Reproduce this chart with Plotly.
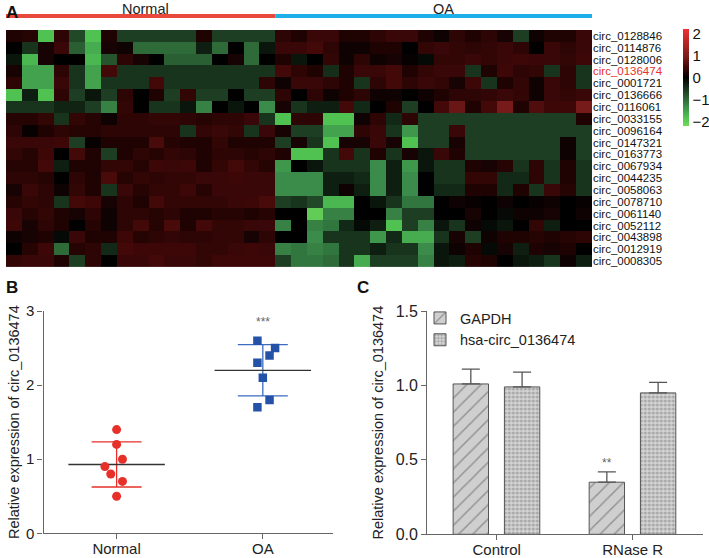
import numpy as np
import plotly.graph_objects as go

W, H = 709, 558
FONT = "Liberation Sans, Arial, sans-serif"

# ---------------- Panel A data ----------------
group_names = ["Normal", "OA"]
n_normal = 17
n_oa = 20
genes = ["circ_0128846", "circ_0114876", "circ_0128006", "circ_0136474", "circ_0001721",
         "circ_0136666", "circ_0116061", "circ_0033155", "circ_0096164", "circ_0147321",
         "circ_0163773", "circ_0067934", "circ_0044235", "circ_0058063", "circ_0078710",
         "circ_0061140", "circ_0052112", "circ_0043898", "circ_0012919", "circ_0008305"]
highlight_gene = "circ_0136474"

heat_z = [
    [0.2, 0.25, -1.8, 0.3, -0.7, -1.8, 0.2, -0.6, -0.6, -0.6, -0.6, -0.6, 0.2,
     -0.6, -0.6, -0.6, -0.6, 0.3, 0.2, 0.4, 0.4, 0.2, 0.2, 0.3, 0.4,
     0.4, 0.2, 0.1, 0.3, 0.2, 0.3, 0.15, -0.6, 0.1, 0.2, 0.2, 0.4],
    [0.0, -0.5, 0.15, 0.4, -0.9, -1.6, 0.15, 0.1, -1.0, -1.0, -1.0, -1.0, -0.3,
     -1.0, 0.0, -1.0, -0.2, 0.4, 0.4, 0.5, 0.3, 0.1, 0.1, 0.2, 0.2,
     0.0, 0.35, 0.4, 0.35, 0.3, 0.35, 0.4, 0.3, 0.0, 0.4, 0.3, 0.4],
    [-0.2, -1.7, 0.15, 0.0, 0.0, -1.7, -0.8, 0.3, 0.15, 0.0, -0.9, -0.9, -0.9,
     0.0, 0.15, -1.0, 0.0, 0.2, -0.2, 0.0, 0.35, 0.1, 0.3, 0.1, 0.15,
     0.05, -0.1, 0.35, 0.35, 0.4, 0.35, 0.4, 0.45, 0.4, 0.4, 0.35, 0.45],
    [0.15, -1.5, -1.5, 0.3, -0.5, -1.5, 0.5, -0.5, -0.5, -0.5, -0.5, -0.5, -0.5,
     -0.5, -0.5, -0.5, -0.5, 0.5, 0.3, 0.2, -0.45, 0.2, 0.4, 0.4, 0.5,
     0.2, 0.35, 0.4, 0.4, -0.5, 0.2, 0.45, 0.3, 0.35, -0.5, 0.3, -0.5],
    [0.3, -1.5, -1.5, 0.4, -0.5, -1.5, -0.5, -0.5, -0.5, 0.5, -0.5, -0.5, -0.5,
     -0.5, -0.5, -0.5, 0.3, 0.1, 0.4, 0.4, 0.3, 0.2, -0.5, 0.3, 0.5,
     0.3, 0.4, 0.35, 0.15, 0.45, -0.5, 0.2, 0.35, 0.1, 0.4, 0.3, -0.5],
    [-1.8, -0.3, -1.8, 0.3, -0.6, -0.2, -0.6, 0.3, 0.0, 0.2, -0.6, 0.35, -0.6,
     -0.6, 0.0, -0.6, -0.6, 0.3, 0.0, 0.3, 0.1, 0.2, 0.3, 0.1, 0.1,
     0.0, 0.1, 0.2, 0.3, 0.3, 0.35, 0.4, 0.35, 0.1, 0.4, 0.35, 0.4],
    [-0.5, -0.5, -0.5, -0.35, -0.35, -0.6, -1.2, 0.35, 0.0, -0.5, -0.5, -0.2, -1.2,
     0.0, -0.2, 0.0, -1.3, 0.15, -0.5, -0.3, -0.3, 0.5, -0.4, 0.0, 0.2,
     -0.6, 0.0, 0.5, 0.8, 0.2, 0.5, 0.9, 0.2, 0.6, 0.45, 0.45, 0.9],
    [0.25, 0.25, 0.35, -0.5, 0.35, 0.25, 0.1, 0.3, 0.3, 0.35, 0.35, 0.3, 0.25,
     0.3, 0.3, 0.4, -0.5, -1.8, 0.3, 0.3, -1.8, -1.8, 0.1, 0.3, -0.4,
     0.3, -0.6, -0.6, -0.6, -0.6, -0.6, -0.6, -0.6, -0.6, -0.6, -0.6, 0.2],
    [0.3, 0.05, 0.2, 0.3, 0.25, 0.25, 0.3, 0.3, 0.3, 0.3, 0.3, -0.5, 0.35,
     0.4, 0.35, -0.5, 0.4, 0.15, -0.6, -0.6, -1.5, -1.5, 0.3, 0.4, -0.5,
     -1.4, -0.6, -0.6, 0.4, -0.6, -0.6, -0.6, -0.6, -0.6, -0.6, -0.6, -0.6],
    [0.4, 0.4, 0.4, 0.45, -0.6, 0.05, 0.2, 0.2, 0.2, 0.55, 0.25, 0.2, 0.2,
     0.35, 0.2, 0.2, 0.2, -0.6, 0.15, -0.5, -1.8, 0.15, 0.15, 0.4, 0.15,
     -1.8, -0.6, -0.6, 0.15, -0.6, -0.6, -0.6, -0.6, -0.6, -0.6, 0.1, -0.6],
    [0.35, 0.25, 0.45, 0.0, 0.5, 0.2, -0.6, 0.2, 0.3, 0.25, 0.35, 0.3, 0.2,
     0.3, 0.3, 0.25, 0.3, 0.2, -1.8, -1.8, -0.5, 0.5, -0.5, 0.2, -0.5,
     0.15, -0.2, 0.4, 0.2, -0.6, -0.6, -0.6, -0.6, -0.6, -0.6, 0.1, -0.6],
    [0.25, 0.25, 0.5, -0.3, 0.2, 0.2, 0.35, 0.35, 0.25, 0.45, 0.4, 0.45, 0.2,
     0.35, 0.5, 0.35, 0.25, -1.4, 0.0, -0.2, -0.5, -0.5, -0.5, -1.3, -0.3,
     -1.4, -0.2, -0.5, -0.5, 0.2, 0.15, 0.25, -0.5, 0.3, -0.5, 0.2, -0.5],
    [0.3, 0.3, 0.25, 0.0, 0.3, 0.2, 0.55, 0.25, 0.35, 0.3, 0.35, 0.35, 0.4,
     0.4, 0.45, 0.4, 0.4, -1.3, -1.3, -1.3, -0.3, -0.3, -0.4, -1.3, -0.3,
     -1.3, 0.0, -0.5, -0.5, 0.35, 0.35, -0.4, -0.4, 0.3, -0.5, 0.2, -0.5],
    [0.15, 0.4, 0.3, 0.1, 0.35, 0.2, -0.5, 0.4, 0.25, 0.35, 0.35, 0.45, 0.25,
     0.4, 0.4, 0.4, 0.4, -1.3, -1.3, -1.3, -0.3, 0.1, -0.3, -1.3, -0.3,
     -1.3, 0.0, -0.4, -0.4, 0.2, 0.2, -0.4, 0.2, -0.5, 0.4, 0.25, -0.5],
    [0.25, 0.35, 0.3, -0.5, 0.5, 0.45, 0.15, 0.3, 0.2, 0.5, 0.35, 0.35, 0.35,
     0.35, 0.4, 0.45, 0.55, -0.6, -0.5, -0.7, -1.7, -1.7, 0.0, -0.2, -0.5,
     -1.1, -1.1, 0.0, 0.1, 0.05, 0.0, 0.1, 0.0, 0.05, 0.1, 0.0, 0.05],
    [0.4, 0.25, 0.35, 0.2, 0.15, 0.3, 0.1, 0.3, 0.3, 0.25, 0.3, 0.2, 0.2,
     0.25, 0.25, 0.2, 0.25, 0.0, 0.0, -2.0, -1.2, -1.2, 0.0, 0.0, -1.2,
     -0.6, -0.6, 0.0, 0.0, 0.15, 0.0, -0.1, 0.1, 0.1, 0.15, 0.0, 0.1],
    [0.45, 0.15, 0.3, 0.2, 0.0, 0.25, 0.1, 0.3, 0.5, 0.25, 0.55, 0.2, 0.5,
     0.35, 0.35, 0.4, 0.4, -1.2, 0.0, -1.2, -1.1, -0.4, -0.1, -0.3, -1.8,
     -0.6, -1.2, -0.2, -0.5, 0.1, -0.1, -0.2, 0.0, 0.35, -0.3, 0.0, 0.0],
    [0.1, 0.15, 0.2, -0.1, 0.4, 0.2, 0.2, 0.45, 0.25, 0.3, 0.35, 0.3, 0.3,
     0.35, 0.35, 0.15, 0.3, 0.0, 0.0, -1.3, -0.5, -0.5, -0.5, -1.4, -0.4,
     -1.6, -1.6, -0.5, 0.15, -0.6, 0.1, 0.2, 0.2, 0.25, 0.2, 0.25, 0.3],
    [0.0, 0.25, 0.45, -1.0, 0.25, 0.3, -0.4, 0.5, 0.45, 0.45, 0.45, 0.45, 0.35,
     0.35, 0.4, 0.45, 0.4, -1.2, -1.1, -1.2, -1.1, -0.5, -0.5, -0.3, -0.5,
     -0.5, -1.3, -0.2, 0.1, 0.2, -0.1, 0.15, -0.3, 0.2, 0.15, 0.2, 0.0],
    [0.35, 0.4, 0.4, 0.2, -0.6, 0.3, 0.0, 0.4, 0.4, 0.5, 0.4, 0.4, 0.35,
     0.45, 0.45, 0.45, 0.45, -0.6, -1.1, -1.1, -1.0, -0.5, -1.6, -0.6, -0.6,
     -0.6, -1.2, -0.2, -0.3, 0.25, 0.2, 0.0, -0.2, -0.3, -0.5, 0.1, -0.3],
]
colorbar_ticks = [-2, -1, 0, 1, 2]

# ---------------- Panel B data ----------------
b_groups = ["Normal", "OA"]
normal_vals = [1.4, 1.2, 1.0, 0.9, 0.8, 0.7, 0.5]
normal_jitter = [0.0, 0.0, 0.04, -0.08, -0.04, 0.04, 0.0]
oa_vals = [2.6, 2.5, 2.4, 2.3, 2.1, 1.8, 1.7]
oa_jitter = [-0.037, 0.084, 0.046, -0.037, 0.0, 0.046, -0.037]
b_yticks = [0, 1, 2, 3]

# ---------------- Panel C data ----------------
c_groups = ["Control", "RNase R"]
c_series = ["GAPDH", "hsa-circ_0136474"]
gapdh_vals = [1.01, 0.35]
gapdh_err = [0.10, 0.07]
hsa_vals = [0.99, 0.95]
hsa_err = [0.10, 0.07]
c_yticks = [0.0, 0.5, 1.0, 1.5]

# ---------------- helpers ----------------
def px(x):
    return x / W

def py(y):
    return 1 - y / H

fig = go.Figure()

# ---------------- Panel A ----------------
zmin, zmax = -2.2, 2.2
def stop(v):
    return (v - zmin) / (zmax - zmin)

colorscale = [
    [stop(-2.2), "#74d85c"],
    [stop(-1.8), "#4fc252"],
    [stop(-1.3), "#3b8c4a"],
    [stop(-0.6), "#1d3e22"],
    [stop(0.0), "#000000"],
    [stop(0.3), "#2e0505"],
    [stop(0.5), "#430808"],
    [stop(0.9), "#761a1a"],
    [stop(2.2), "#f03030"],
]

n_cols = n_normal + n_oa
fig.add_trace(go.Heatmap(
    z=heat_z, x=list(range(n_cols)), y=list(range(len(genes))),
    zmin=zmin, zmax=zmax, colorscale=colorscale,
    xaxis="x", yaxis="y", hoverinfo="skip",
    colorbar=dict(x=px(683), xanchor="left", y=py(29), yanchor="top",
                  len=97, lenmode="pixels", thickness=6, thicknessmode="pixels",
                  xpad=0, ypad=0, outlinewidth=0, ticks="",
                  tickvals=colorbar_ticks,
                  tickfont=dict(size=15, color="#111", family=FONT)),
))

tick_text = [f"<span style='color:#e8302a'>{g}</span>" if g == highlight_gene else g for g in genes]

# ---------------- Panel B ----------------
normal_mean, normal_sd = float(np.mean(normal_vals)), float(np.std(normal_vals, ddof=1))
oa_mean, oa_sd = float(np.mean(oa_vals)), float(np.std(oa_vals, ddof=1))

for gi, (mean, sd, col) in enumerate([(normal_mean, normal_sd, "#e8302a"), (oa_mean, oa_sd, "#3c6cc0")]):
    fig.add_trace(go.Scatter(
        x=[gi], y=[mean], mode="markers", marker=dict(size=1, color="rgba(0,0,0,0)"),
        error_y=dict(type="data", array=[sd], symmetric=True, color=col, thickness=1.3, width=25),
        xaxis="x2", yaxis="y2", showlegend=False, hoverinfo="skip"))
    fig.add_trace(go.Scatter(
        x=[gi - 0.33, gi + 0.33], y=[mean, mean], mode="lines",
        line=dict(color="#333333", width=1.3),
        xaxis="x2", yaxis="y2", showlegend=False, hoverinfo="skip"))

fig.add_trace(go.Scatter(
    x=[0 + j for j in normal_jitter], y=normal_vals, mode="markers",
    marker=dict(symbol="circle", size=9, color="#e8302a", line=dict(width=0)),
    xaxis="x2", yaxis="y2", showlegend=False))
fig.add_trace(go.Scatter(
    x=[1 + j for j in oa_jitter], y=oa_vals, mode="markers",
    marker=dict(symbol="square", size=8.5, color="#2452a8", line=dict(width=0)),
    xaxis="x2", yaxis="y2", showlegend=False))

# ---------------- Panel C ----------------
bar_w = 0.26
fig.add_trace(go.Bar(
    x=[0, 1], y=gapdh_vals, name=c_series[0], width=bar_w, offset=-0.32,
    marker=dict(color="#cfcfcf", line=dict(color="#555", width=1),
                pattern=dict(shape="/", fgcolor="#555", bgcolor="#cfcfcf", size=10, solidity=0.15)),
    error_y=dict(type="data", array=gapdh_err, arrayminus=[0, 0], symmetric=False,
                 color="#555", thickness=1.3, width=9),
    xaxis="x3", yaxis="y3"))
fig.add_trace(go.Bar(
    x=[0, 1], y=hsa_vals, name=c_series[1], width=bar_w, offset=0.057,
    marker=dict(color="#cfcfcf", line=dict(color="#555", width=1),
                pattern=dict(shape=".", fgcolor="#777", bgcolor="#d4d4d4", size=4, solidity=0.45)),
    error_y=dict(type="data", array=hsa_err, arrayminus=[0, 0], symmetric=False,
                 color="#555", thickness=1.3, width=9),
    xaxis="x3", yaxis="y3"))

axis_col = "#666666"
tick_font = dict(size=15, color="#222", family=FONT)
x_common = dict(ticks="outside", ticklen=5, tickcolor=axis_col, tickwidth=1.3,
                showline=True, linecolor=axis_col, linewidth=1.3, showgrid=False,
                zeroline=False, tickfont=tick_font, ticklabelstandoff=-3)
y_common = dict(ticks="outside", ticklen=5, tickcolor=axis_col, tickwidth=1.3,
                showline=True, linecolor=axis_col, linewidth=1.3, showgrid=False,
                zeroline=False)

fig.update_layout(
    width=W, height=H, margin=dict(l=0, r=0, t=0, b=0, autoexpand=False),
    paper_bgcolor="white", plot_bgcolor="white",
    font=dict(family=FONT, color="#222"),
    barmode="overlay",
    xaxis=dict(domain=[px(6), px(592)], range=[-0.5, n_cols - 0.5], visible=False, anchor="y"),
    yaxis=dict(domain=[py(267), py(29.9)], range=[len(genes) - 0.5, -0.5], anchor="x",
               side="right", tickvals=list(range(len(genes))), ticktext=tick_text,
               ticks="", showgrid=False, zeroline=False, showline=False,
               tickfont=dict(size=11.5, color="#111", family=FONT)),
    xaxis2=dict(domain=[px(43.5), px(333)], range=[-0.5, 1.48], anchor="y2",
                tickvals=[0, 1], ticktext=b_groups, **x_common),
    yaxis2=dict(domain=[py(533.3), py(311)], range=[0, 3], anchor="x2",
                tickvals=b_yticks, tickfont=tick_font, **y_common,
                title=dict(text="Relative expression of circ_0136474",
                           font=dict(size=14.5, color="#222", family=FONT), standoff=2)),
    xaxis3=dict(domain=[px(427.3), px(703)], range=[-0.51, 1.517], anchor="y3",
                tickvals=[0, 1], ticktext=c_groups, **x_common),
    yaxis3=dict(domain=[py(534.3), py(311)], range=[0, 1.5], anchor="x3",
                tickvals=c_yticks, tickformat=".1f", **y_common,
                tickfont=dict(size=16, color="#222", family=FONT),
                title=dict(text="Relative expression of circ_0136474",
                           font=dict(size=14.5, color="#222", family=FONT), standoff=8)),
    legend=dict(x=px(420), y=py(302), xanchor="left", yanchor="top",
                bgcolor="rgba(0,0,0,0)", font=dict(size=14.5, color="#222", family=FONT),
                tracegroupgap=0),
)

# group bars on top of heatmap
fig.add_shape(type="line", xref="x", yref="paper", x0=-0.5, x1=n_normal - 0.5,
              y0=py(16), y1=py(16), line=dict(color="#e8493c", width=4))
fig.add_shape(type="line", xref="x", yref="paper", x0=n_normal - 0.5, x1=n_cols - 0.5,
              y0=py(16), y1=py(16), line=dict(color="#1eaee8", width=4))

letter_font = dict(size=17, color="#111", family=FONT)
annots = [
    dict(text="<b>A</b>", x=px(4), y=py(1), xref="paper", yref="paper",
         xanchor="left", yanchor="top", showarrow=False, font=letter_font),
    dict(text="<b>B</b>", x=px(4), y=py(276), xref="paper", yref="paper",
         xanchor="left", yanchor="top", showarrow=False, font=letter_font),
    dict(text="<b>C</b>", x=px(355), y=py(276), xref="paper", yref="paper",
         xanchor="left", yanchor="top", showarrow=False, font=letter_font),
    dict(text=group_names[0], x=8.3, y=py(9), xref="x", yref="paper", showarrow=False,
         xanchor="center", yanchor="middle", font=dict(size=14.5, color="#222", family=FONT)),
    dict(text=group_names[1], x=27.1, y=py(9), xref="x", yref="paper", showarrow=False,
         xanchor="center", yanchor="middle", font=dict(size=14.5, color="#222", family=FONT)),
    dict(text="***", x=1, y=oa_mean + oa_sd + 0.3, xref="x2", yref="y2", showarrow=False,
         xanchor="center", yanchor="middle", font=dict(size=12, color="#666", family=FONT)),
    dict(text="**", x=1 - 0.32 + bar_w / 2, y=gapdh_vals[1] + gapdh_err[1] + 0.06,
         xref="x3", yref="y3", showarrow=False, xanchor="center", yanchor="middle",
         font=dict(size=12, color="#666", family=FONT)),
]
fig.update_layout(annotations=annots)

fig.write_html("out.html", config={"displayModeBar": False},
               post_script="document.body.style.margin='0';document.body.style.overflow='hidden';")
